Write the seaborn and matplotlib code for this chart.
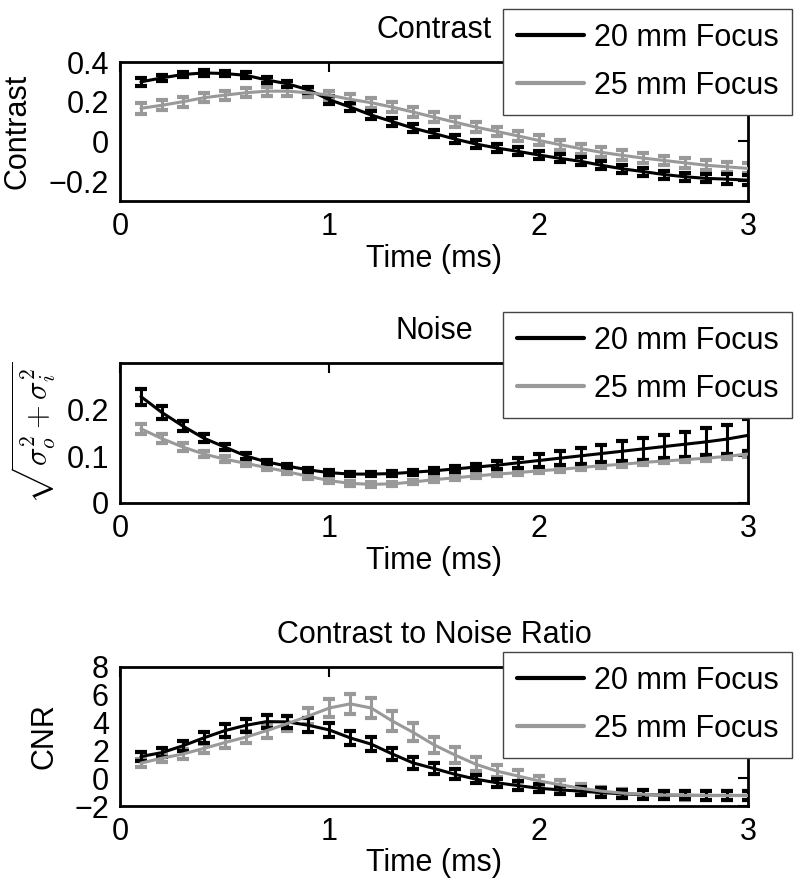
import numpy as np
import pandas as pd
import seaborn as sns
import matplotlib
matplotlib.use("Agg")
import matplotlib.pyplot as plt

# temps (ms)
time_ms = [0.1, 0.2, 0.3, 0.4, 0.5, 0.6, 0.7, 0.8, 0.9, 1.0,
           1.1, 1.2, 1.3, 1.4, 1.5, 1.6, 1.7, 1.8, 1.9, 2.0,
           2.1, 2.2, 2.3, 2.4, 2.5, 2.6, 2.7, 2.8, 2.9, 3.0]

labels = ["20 mm Focus", "25 mm Focus"]

# Contraste
contrast_20 = [0.30, 0.32, 0.337, 0.345, 0.342, 0.333, 0.31, 0.29, 0.26, 0.21,
               0.173, 0.133, 0.10, 0.067, 0.040, 0.012, -0.013, -0.033, -0.050, -0.068,
               -0.085, -0.10, -0.12, -0.138, -0.152, -0.167, -0.178, -0.186, -0.190, -0.195]
contrast_25 = [0.167, 0.182, 0.20, 0.22, 0.233, 0.245, 0.253, 0.253, 0.245, 0.233,
               0.212, 0.195, 0.173, 0.148, 0.122, 0.097, 0.072, 0.050, 0.028, 0.005,
               -0.016, -0.036, -0.055, -0.070, -0.084, -0.096, -0.108, -0.120, -0.128, -0.136]
contrast_20_err = [0.02, 0.015, 0.015, 0.015, 0.015, 0.015, 0.015, 0.015, 0.015, 0.02,
                   0.02, 0.02, 0.02, 0.02, 0.02, 0.02, 0.02, 0.02, 0.02, 0.02,
                   0.02, 0.02, 0.02, 0.02, 0.02, 0.02, 0.02, 0.02, 0.025, 0.025]
contrast_25_err = [0.028, 0.025, 0.025, 0.022, 0.022, 0.022, 0.022, 0.022, 0.022, 0.022,
                   0.025, 0.025, 0.025, 0.025, 0.025, 0.025, 0.025, 0.025, 0.025, 0.025,
                   0.025, 0.025, 0.025, 0.025, 0.025, 0.025, 0.025, 0.025, 0.025, 0.025]

# Bruit
noise_20 = [0.228, 0.194, 0.165, 0.139, 0.12, 0.101, 0.088, 0.079, 0.071, 0.065,
            0.062, 0.062, 0.063, 0.066, 0.069, 0.073, 0.077, 0.081, 0.086, 0.091,
            0.096, 0.101, 0.106, 0.111, 0.116, 0.121, 0.126, 0.131, 0.137, 0.145]
noise_25 = [0.159, 0.138, 0.12, 0.105, 0.094, 0.085, 0.076, 0.067, 0.057, 0.048,
            0.042, 0.040, 0.041, 0.045, 0.050, 0.054, 0.058, 0.062, 0.065, 0.069,
            0.072, 0.076, 0.080, 0.083, 0.087, 0.090, 0.093, 0.096, 0.100, 0.105]
noise_20_err = [0.017, 0.013, 0.011, 0.009, 0.007, 0.006, 0.005, 0.005, 0.005, 0.005,
                0.005, 0.005, 0.005, 0.005, 0.005, 0.006, 0.007, 0.009, 0.011, 0.013,
                0.015, 0.017, 0.019, 0.021, 0.023, 0.025, 0.027, 0.029, 0.031, 0.034]
noise_25_err = [0.011, 0.009, 0.008, 0.007, 0.006, 0.005, 0.005, 0.005, 0.005, 0.005,
                0.005, 0.005, 0.005, 0.005, 0.005, 0.005, 0.005, 0.005, 0.005, 0.005,
                0.005, 0.005, 0.005, 0.005, 0.005, 0.005, 0.005, 0.006, 0.006, 0.006]

# CNR
cnr_20 = [1.56, 1.84, 2.33, 2.9, 3.42, 3.8, 4.07, 4.05, 3.81, 3.47,
          2.9, 2.45, 1.75, 1.1, 0.7, 0.28, -0.07, -0.33, -0.53, -0.72,
          -0.84, -0.93, -1.04, -1.12, -1.18, -1.22, -1.23, -1.24, -1.24, -1.24]
cnr_25 = [1.09, 1.44, 1.74, 2.14, 2.56, 2.95, 3.42, 3.93, 4.47, 5.05,
          5.35, 5.05, 4.12, 3.3, 2.4, 1.67, 1.0, 0.51, 0.16, -0.19,
          -0.47, -0.72, -0.93, -1.07, -1.16, -1.22, -1.24, -1.25, -1.25, -1.25]
cnr_20_err = [0.3, 0.3, 0.35, 0.4, 0.45, 0.45, 0.45, 0.45, 0.5, 0.5,
              0.5, 0.5, 0.45, 0.45, 0.4, 0.35, 0.3, 0.3, 0.3, 0.3,
              0.3, 0.3, 0.3, 0.3, 0.3, 0.3, 0.3, 0.3, 0.3, 0.3]
cnr_25_err = [0.3, 0.3, 0.35, 0.35, 0.4, 0.45, 0.5, 0.55, 0.6, 0.65,
              0.7, 0.7, 0.7, 0.65, 0.6, 0.55, 0.5, 0.45, 0.4, 0.35,
              0.35, 0.3, 0.3, 0.3, 0.3, 0.3, 0.3, 0.3, 0.3, 0.3]

sns.set_style("white")
plt.rcParams['font.family'] = ['Liberation Sans', 'DejaVu Sans']
plt.rcParams['mathtext.fontset'] = 'cm'
plt.rcParams['text.color'] = 'black'
plt.rcParams['axes.labelcolor'] = 'black'
plt.rcParams['xtick.color'] = 'black'
plt.rcParams['ytick.color'] = 'black'

colors = {"20 mm Focus": "black", "25 mm Focus": "#999999"}

panels = [
    ("Contrast", "Contrast", contrast_20, contrast_25, contrast_20_err, contrast_25_err,
     (-0.3, 0.4), [-0.2, 0, 0.2, 0.4], ["\u22120.2", "0", "0.2", "0.4"]),
    ("Noise", r"$\sqrt{\sigma_o^2+\sigma_i^2}$", noise_20, noise_25, noise_20_err, noise_25_err,
     (0, 0.3), [0, 0.1, 0.2], ["0", "0.1", "0.2"]),
    ("Contrast to Noise Ratio", "CNR", cnr_20, cnr_25, cnr_20_err, cnr_25_err,
     (-2, 8), [-2, 0, 2, 4, 6, 8], ["\u22122", "0", "2", "4", "6", "8"]),
]

# positions en pixels (haut, bas) pour chaque panneau
ax_tops = [62, 363, 667]
ax_bottoms = [201, 503, 806]
leg_tops = [9, 312, 652]
ylabel_x = [-0.139, -0.099, -0.096]

fig = plt.figure(figsize=(8, 8.92), dpi=100)
W, H = 800, 892
left, right = 120, 748

for i, (title, ylab, y20, y25, e20, e25, ylim, yt, ytl) in enumerate(panels):
    ax = fig.add_axes([left / W, 1 - ax_bottoms[i] / H, (right - left) / W,
                       (ax_bottoms[i] - ax_tops[i]) / H])
    df = pd.DataFrame({
        "Time": time_ms * 2,
        "val": y20 + y25,
        "err": e20 + e25,
        "Focus": [labels[0]] * len(time_ms) + [labels[1]] * len(time_ms),
    })
    for lab in labels[::-1]:
        sub = df[df["Focus"] == lab]
        ax.errorbar(sub["Time"], sub["val"], yerr=sub["err"], fmt="none",
                    ecolor=colors[lab], elinewidth=2.2, capsize=4.5, capthick=3, zorder=2)
    sns.lineplot(data=df, x="Time", y="val", hue="Focus", palette=colors,
                 hue_order=labels, linewidth=2.2, ax=ax, zorder=3)

    ax.set_xlim(0, 3)
    ax.set_ylim(*ylim)
    ax.set_xticks([0, 1, 2, 3])
    ax.set_xticklabels(["0", "1", "2", "3"])
    ax.set_yticks(yt)
    ax.set_yticklabels(ytl)
    ax.tick_params(direction="in", length=7, width=1.5, labelsize=22, pad=8,
                   top=True, right=True)
    for s in ax.spines.values():
        s.set_linewidth(2)
        s.set_color("black")
    ax.set_title(title, fontsize=22, pad=17)
    ax.set_xlabel("Time (ms)", fontsize=22, labelpad=1)
    ax.set_ylabel(ylab, fontsize=22)
    ax.yaxis.set_label_coords(ylabel_x[i], 0.5)

    leg = ax.legend(loc="upper right", bbox_to_anchor=(792 / W, 1 - leg_tops[i] / H),
                    bbox_transform=fig.transFigure, fontsize=22, frameon=True,
                    fancybox=False, framealpha=1, edgecolor="#444444",
                    handlelength=2.2, handletextpad=0.3, borderpad=0.45,
                    labelspacing=0.6, borderaxespad=0)
    leg.get_frame().set_linewidth(1)
    for line in leg.get_lines():
        line.set_linewidth(3)

fig.savefig("out.png", dpi=100, facecolor="white")
